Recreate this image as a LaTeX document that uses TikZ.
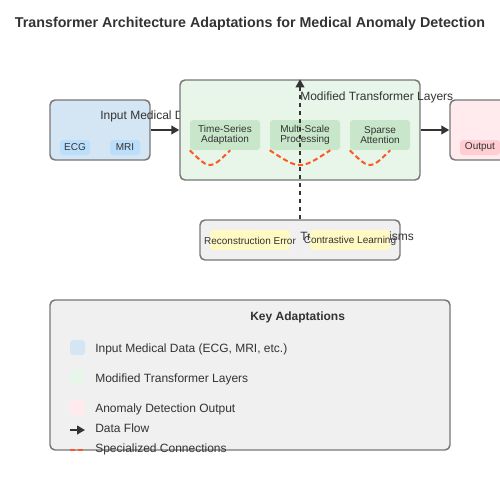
\documentclass[tikz,border=0pt]{standalone}
\usepackage{fontspec}
\setmainfont{Liberation Sans}
\usetikzlibrary{arrows.meta}
\definecolor{ink}{HTML}{333333}
\definecolor{edge}{HTML}{777777}
\definecolor{inblue}{HTML}{D4E6F3}
\definecolor{tagblue}{HTML}{BBDEFB}
\definecolor{tfgreen}{HTML}{E8F5E9}
\definecolor{subgreen}{HTML}{C8E6C9}
\definecolor{outpink}{HTML}{FFEBEE}
\definecolor{tagpink}{HTML}{FFCDD2}
\definecolor{panel}{HTML}{F0F0F0}
\definecolor{tagyellow}{HTML}{FFF9C4}
\definecolor{spec}{HTML}{FF5722}
\tikzset{
  box/.style={draw=edge,line width=1.1pt,rounded corners=3.75pt,inner sep=0pt},
  tag/.style={rounded corners=2.25pt,inner sep=0pt},
  lbl/.style={text=ink,font=\fontsize{9}{10}\selectfont,inner sep=0pt},
  small/.style={text=ink,font=\fontsize{7.5}{7.5}\selectfont,inner sep=0pt,align=center},
  flow/.style={draw=ink,line width=1.5pt,-{Triangle[length=6pt,width=6.5pt]}},
  link/.style={draw=ink,line width=1.1pt,dash pattern=on 3pt off 3pt,-{Triangle[length=6pt,width=6.5pt]}},
  specl/.style={draw=spec,line width=1.5pt,dash pattern=on 3.75pt off 2.25pt}
}
\begin{document}
\begin{tikzpicture}[x=0.75pt,y=-0.75pt]
\useasboundingbox (0,0) rectangle (500,500);
\node[text=ink,font=\bfseries\fontsize{10.7}{12}\selectfont] (title) at (250,24) {Transformer Architecture Adaptations for Medical Anomaly Detection};
% input data
\node[box,fill=inblue,minimum width=75pt,minimum height=45pt] (input) at (100,130) {};
\node[lbl,anchor=base west] (inputlbl) at (100,119) {Input Medical Data};
\node[tag,fill=tagblue,minimum width=22.5pt,minimum height=11.25pt] (ecg) at (75,147.5) {};
\node[small] at (ecg) {ECG};
\node[tag,fill=tagblue,minimum width=22.5pt,minimum height=11.25pt] (mri) at (125,147.5) {};
\node[small] at (mri) {MRI};
% transformer layers
\node[box,fill=tfgreen,minimum width=180pt,minimum height=75pt] (tf) at (300,130) {};
\node[lbl,anchor=base west] (tflbl) at (300,100) {Modified Transformer Layers};
\node[tag,fill=subgreen,minimum width=52.5pt,minimum height=22.5pt] (ts) at (225,135) {};
\node[small] at (ts) {Time-Series\\Adaptation};
\node[tag,fill=subgreen,minimum width=52.5pt,minimum height=22.5pt] (ms) at (305,135) {};
\node[small] at (ms) {Multi-Scale\\Processing};
\node[tag,fill=subgreen,minimum width=45pt,minimum height=22.5pt] (sa) at (380,135) {};
\node[small] at (sa) {Sparse\\Attention};
\draw[specl] (ts.south west) .. controls (210,170) .. ([xshift=-22.5pt]ts.south east);
\draw[specl] (ms.south west) .. controls (300,170) .. ([xshift=-7.5pt]ms.south east);
\draw[specl] (sa.south west) .. controls (370,170) .. ([xshift=-15pt]sa.south east);
% output
\node[box,fill=outpink,minimum width=52.5pt,minimum height=45pt] (out) at (485,130) {};
\node[tag,fill=tagpink,minimum width=30pt,minimum height=11.25pt] (outtag) at (480,147.5) {};
\node[small] at (outtag) {Output};
% training
\node[box,fill=panel,minimum width=150pt,minimum height=30pt] (train) at (300,240) {};
\node[lbl,anchor=base west] (trainlbl) at (300,240) {Training Mechanisms};
\node[tag,fill=tagyellow,minimum width=60pt,minimum height=15pt] (rec) at (250,240) {};
\node[small] at ([yshift=-1pt]rec) {Reconstruction Error};
\node[tag,fill=tagyellow,minimum width=60pt,minimum height=15pt] (con) at (350,240) {};
\node[small] at ([yshift=-1pt]con) {Contrastive Learning};
\draw[flow] (input) -- (tf);
\draw[flow] (tf) -- (out);
\draw[link] (train.north) -- (tf.north);
% legend
\node[box,fill=panel,minimum width=300pt,minimum height=112.5pt] (key) at (250,375) {};
\node[lbl,font=\bfseries\fontsize{9}{10}\selectfont,anchor=base west] (keylbl) at (250,320) {Key Adaptations};
\node[tag,fill=inblue,minimum size=11.25pt] (k1) at (77.5,347.5) {};
\node[lbl,anchor=base west] at (95,352) {Input Medical Data (ECG, MRI, etc.)};
\node[tag,fill=tfgreen,minimum size=11.25pt] (k2) at (77.5,377.5) {};
\node[lbl,anchor=base west] at (95,382) {Modified Transformer Layers};
\node[tag,fill=outpink,minimum size=11.25pt] (k3) at (77.5,407.5) {};
\node[lbl,anchor=base west] at (95,412) {Anomaly Detection Output};
\coordinate (k4a) at (70,430);
\coordinate (k4b) at (85,430);
\draw[flow] (k4a) -- (k4b);
\node[lbl,anchor=base west] at (95,432) {Data Flow};
\coordinate (k5a) at (70,450);
\coordinate (k5b) at (85,450);
\draw[specl] (k5a) -- (k5b);
\node[lbl,anchor=base west] at (95,452) {Specialized Connections};
\end{tikzpicture}
\end{document}
